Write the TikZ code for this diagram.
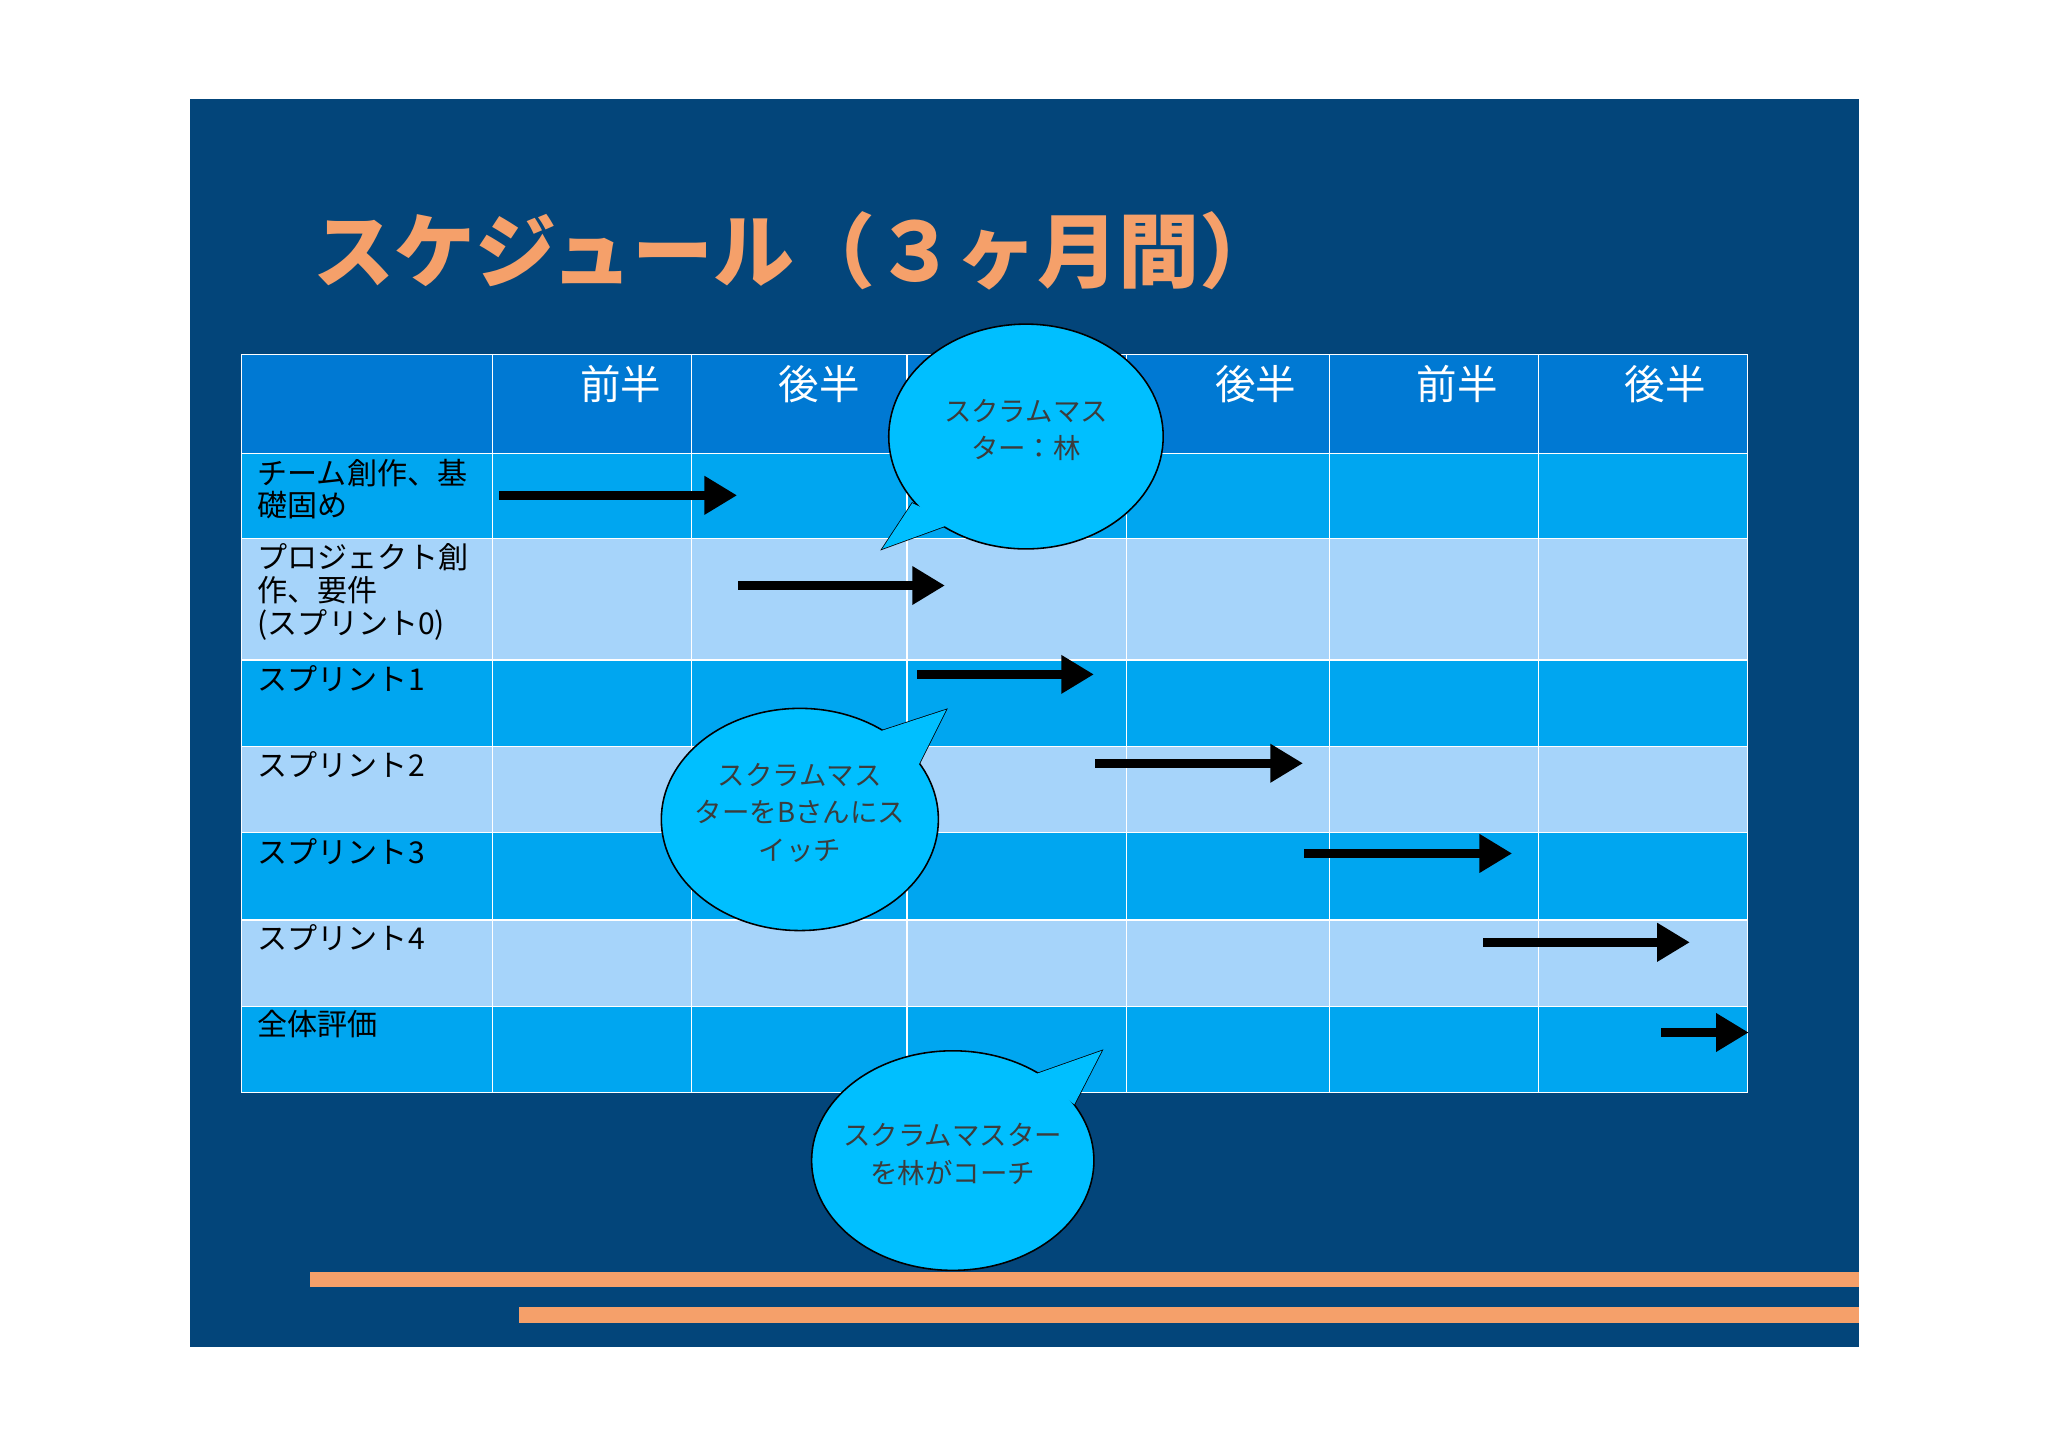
\documentclass[tikz,border=0pt]{standalone}
\usepackage{fontspec}
\newfontfamily\cjk{Noto Sans CJK JP}
\usetikzlibrary{arrows.meta}
\definecolor{bgdark}{RGB}{3,69,122}
\definecolor{hdr}{RGB}{0,121,211}
\definecolor{rowd}{RGB}{0,166,240}
\definecolor{rowl}{RGB}{166,212,250}
\definecolor{orng}{RGB}{245,160,106}
\definecolor{bub}{RGB}{0,191,255}
\definecolor{btxt}{RGB}{60,60,60}
\tikzset{
 gar/.style={line width=7pt,-{Triangle[length=25pt,width=28pt]}},
 lbl/.style={anchor=north west,align=left,font=\cjk\fontsize{23}{25}\selectfont,inner sep=0pt},
 hd/.style={font=\cjk\fontsize{31}{33}\selectfont,text=white,inner sep=0pt},
 bt/.style={font=\cjk\fontsize{21}{29}\selectfont,text=btxt,align=center},
 bubble/.style={fill=bub,draw=black,line width=1.2pt},
}
\begin{document}
\begin{tikzpicture}[x=1pt,y=-1pt]
\useasboundingbox (0,0) rectangle (1567,1107);
\fill[white] (0,0) rectangle (1567,1107);
\fill[bgdark] (145,76) rectangle (1422,1031);
\node[anchor=west,text=orng,font=\cjk\fontsize{62}{64}\selectfont\bfseries,inner sep=0pt] (title) at (240,192) {スケジュール（３ヶ月間）};
% table
\fill[hdr] (185,271) rectangle (1337,347);
\foreach \a/\b/\c in {347/412/rowd,412/505/rowl,505/571/rowd,571/637/rowl,637/704/rowd,704/770/rowl,770/836/rowd}
  \fill[\c] (185,\a) rectangle (1337,\b);
\foreach \y in {271,347,412,505,571,637,704,770,836} \draw[white,line width=1pt] (185,\y) -- (1337,\y);
\foreach \x in {185,377,529,694,862,1017,1177,1337} \draw[white,line width=1pt] (\x,271) -- (\x,836);
\node[hd] (h1) at (475,294) {前半};
\node[hd] (h2) at (627,294) {後半};
\node[hd] (h4) at (961,294) {後半};
\node[hd] (h5) at (1115,294) {前半};
\node[hd] (h6) at (1274,294) {後半};
\node[lbl] (r1) at (197,351) {チーム創作、基\\礎固め};
\node[lbl] (r2) at (197,416) {プロジェクト創\\作、要件\\(スプリント0)};
\node[lbl] (r3) at (197,509) {スプリント1};
\node[lbl] (r4) at (197,575) {スプリント2};
\node[lbl] (r5) at (197,641) {スプリント3};
\node[lbl] (r6) at (197,707) {スプリント4};
\node[lbl] (r7) at (197,773) {全体評価};
% arrows
\foreach \n/\xa/\xb/\y in {1/382/564/379,2/565/723/448,3/702/837/516,4/838/997/584,5/998/1157/653,6/1135/1293/721,7/1271/1338/790}{
  \coordinate (s\n) at (\xa,\y); \coordinate (e\n) at (\xb,\y);
  \draw[gar] (s\n) -- (e\n);}
% bubbles
\draw[bubble] (675,420) -- (698,385) -- (730,400) -- cycle;
\draw[bubble] (785,334) ellipse [x radius=105,y radius=86];
\fill[bub] (675,420) -- (698,385) -- (730,400) -- cycle;
\node[bt] (b1) at (785,329) {スクラムマス\\ター：林};
\draw[bubble] (724,543) -- (672,560) -- (703,585) -- cycle;
\draw[bubble] (612,627) ellipse [x radius=106,y radius=85];
\fill[bub] (724,543) -- (672,560) -- (703,585) -- cycle;
\node[bt] (b2) at (612,622) {スクラムマス\\ターをBさんにス\\イッチ};
\draw[bubble] (843,804) -- (792,822) -- (822,845) -- cycle;
\draw[bubble] (729,888) ellipse [x radius=108,y radius=84];
\fill[bub] (843,804) -- (792,822) -- (822,845) -- cycle;
\node[bt] (b3) at (729,883) {スクラムマスター\\を林がコーチ};
% orange lines
\fill[orng] (237,973) rectangle (1422,985);
\fill[orng] (397,1000) rectangle (1422,1012);
\end{tikzpicture}
\end{document}
